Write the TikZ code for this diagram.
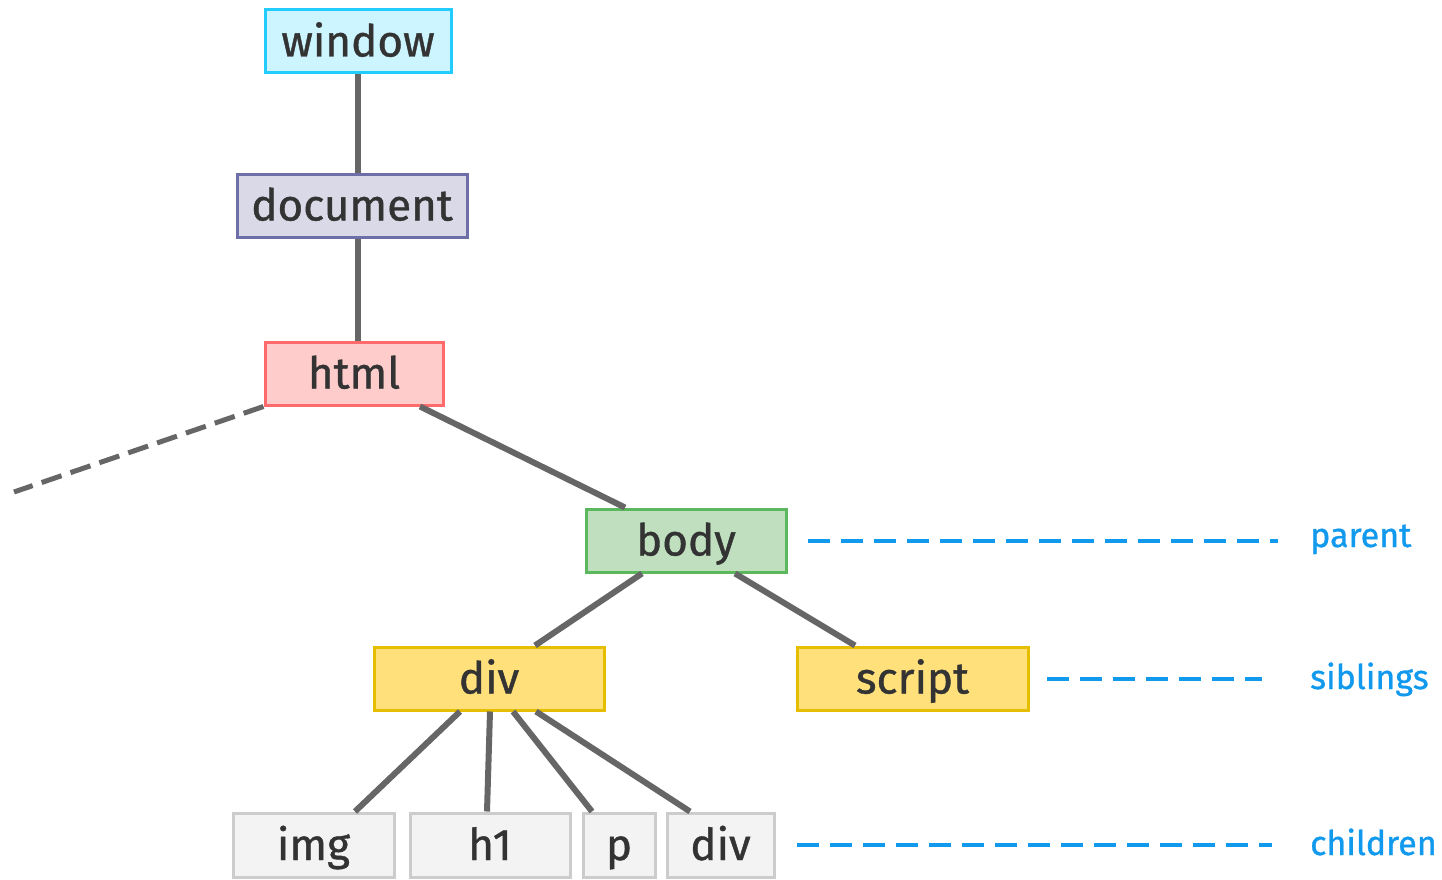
\documentclass[tikz,border=0pt]{standalone}
\usepackage{fontspec}
\setmainfont{Fira Sans}
\newfontfamily\treefont{Fira Sans}[FakeBold=0.9]
\begin{document}
\begin{tikzpicture}[x=1pt,y=-1pt,
  box/.style={draw, line width=3pt, inner sep=0pt, text=textdark,
    text height=32pt, text depth=2pt,
    font=\treefont\fontsize{44}{52}\selectfont},
  wbox/.style={box, fill=winfill, draw=winline},
  dbox/.style={box, fill=docfill, draw=docline},
  hbox/.style={box, fill=htmlfill, draw=htmlline},
  bbox/.style={box, fill=bodyfill, draw=bodyline},
  ybox/.style={box, fill=yelfill, draw=yelline},
  gbox/.style={box, fill=grayfill, draw=grayline},
  edge/.style={draw=edgegray, line width=6pt},
  rel/.style={draw=relblue, line width=4pt, dash pattern=on 22pt off 11pt},
  rellabel/.style={text=relblue, anchor=base west, inner sep=0pt,
    font=\treefont\fontsize{34}{40}\selectfont}]

\definecolor{textdark}{HTML}{333333}
\definecolor{winfill}{HTML}{CCF5FF}
\definecolor{winline}{HTML}{22CCFF}
\definecolor{docfill}{HTML}{D9D9E8}
\definecolor{docline}{HTML}{6E6EA8}
\definecolor{htmlfill}{HTML}{FFCCCC}
\definecolor{htmlline}{HTML}{FF6B6B}
\definecolor{bodyfill}{HTML}{BFDFBF}
\definecolor{bodyline}{HTML}{5CB85C}
\definecolor{yelfill}{HTML}{FFE07A}
\definecolor{yelline}{HTML}{E6BE00}
\definecolor{grayfill}{HTML}{F3F3F3}
\definecolor{grayline}{HTML}{CCCCCC}
\definecolor{edgegray}{HTML}{666666}
\definecolor{relblue}{HTML}{1199EE}

\useasboundingbox (0,0) rectangle (1442,880);

% tree nodes
\node[wbox, minimum width=186, minimum height=63] (window) at (358,41.5) {window};
\node[dbox, minimum width=230, minimum height=63] (document) at (352,205.5) {document};
\node[hbox, minimum width=178, minimum height=63] (html) at (354,373.5) {html};
\node[bbox, minimum width=200, minimum height=63] (body) at (686,540.5) {body};
\node[ybox, minimum width=230, minimum height=63] (div) at (489,678.5) {div};
\node[ybox, minimum width=231, minimum height=63] (script) at (912.5,678.5) {script};
\node[gbox, minimum width=161, minimum height=64] (img) at (313.5,845) {img};
\node[gbox, minimum width=160, minimum height=64] (h1) at (490,845) {h1};
\node[gbox, minimum width=72, minimum height=64] (p) at (619,845) {p};
\node[gbox, minimum width=107, minimum height=64] (div2) at (720.5,845) {div};

% relation labels
\node[rellabel] (parent) at (1310,547) {parent};
\node[rellabel] (siblings) at (1310,689) {siblings};
\node[rellabel] (children) at (1310,855) {children};

% tree edges
\draw[edge] (window.south) -- ([xshift=6]document.north);
\draw[edge] ([xshift=6]document.south) -- ([xshift=4]html.north);
\draw[edge] ([xshift=66]html.south) -- ([xshift=-61]body.north);
\draw[edge] ([xshift=-44]body.south) -- ([xshift=46]div.north);
\draw[edge] ([xshift=49]body.south) -- ([xshift=-57.5]script.north);
\draw[edge] ([xshift=-29]div.south) -- ([xshift=41.5]img.north);
\draw[edge] ([xshift=1]div.south) -- ([xshift=-3]h1.north);
\draw[edge] ([xshift=24]div.south) -- ([xshift=-27]p.north);
\draw[edge] ([xshift=47]div.south) -- ([xshift=-30.5]div2.north);

% elided sibling of body
\coordinate (elided) at (14,492);
\draw[edge, line width=5pt, dash pattern=on 21pt off 9.5pt] (html.south west) -- (elided);

% relation markers
\draw[rel] ([xshift=20]body.east) -- ([xshift=-32]parent.west |- body.east);
\draw[rel] ([xshift=17]script.east) -- ([xshift=-48]siblings.west |- script.east);
\draw[rel] ([xshift=21]div2.east) -- ([xshift=-38]children.west |- div2.east);
\end{tikzpicture}
\end{document}
